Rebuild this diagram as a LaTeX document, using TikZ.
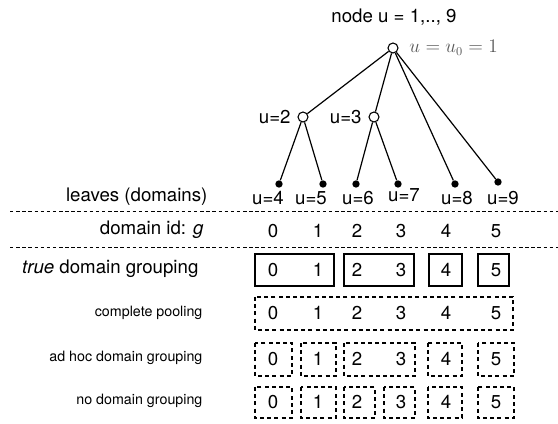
\documentclass[tikz,border=0pt]{standalone}
\usepackage{fontspec}
\setmainfont{TeX Gyre Heros}
\usetikzlibrary{positioning}

\tikzset{
  opennode/.style={circle,draw,fill=white,line width=0.8pt,inner sep=0pt,minimum size=7.5pt},
  leafnode/.style={circle,fill=black,inner sep=0pt,minimum size=5.5pt},
  biglbl/.style={font=\fontsize{14}{16}\selectfont,inner sep=1pt},
  smalllbl/.style={font=\fontsize{10.7}{12}\selectfont,inner sep=1pt,anchor=east},
  edge/.style={line width=0.9pt},
  sepline/.style={line width=0.6pt,dash pattern=on 2.6pt off 2pt},
  truebox/.style={line width=1.4pt},
  poolbox/.style={line width=1.5pt,dash pattern=on 3pt off 2.4pt},
}

\begin{document}
\begin{tikzpicture}[x=0.75pt,y=-0.75pt]
\useasboundingbox (0,0) rectangle (558,424);

% tree
\node[biglbl] (title) at (394,17) {node u = 1,.., 9};
\node[opennode] (u1) at (393,48) {};
\node[font=\fontsize{13.5}{15}\selectfont,text=black!65,right=7pt of u1,inner sep=1pt] (u1lbl) {$u=u_0=1$};
\node[opennode] (u2) at (303,117) {};
\node[opennode] (u3) at (374,117) {};
\node[biglbl,left=4pt of u2] (u2lbl) {u=2};
\node[biglbl,left=4pt of u3] (u3lbl) {u=3};

\node[leafnode] (u4) at (279,184) {};
\node[leafnode] (u5) at (323,184) {};
\node[leafnode] (u6) at (356,184) {};
\node[leafnode] (u7) at (398,184) {};
\node[leafnode] (u8) at (455,184) {};
\node[leafnode] (u9) at (498,182) {};

\draw[edge] (u1) -- (u2);
\draw[edge] (u1) -- (u3);
\draw[edge] (u1) -- (u8);
\draw[edge] (u1) -- (u9);
\draw[edge] (u2) -- (u4);
\draw[edge] (u2) -- (u5);
\draw[edge] (u3) -- (u6);
\draw[edge] (u3) -- (u7);

% leaf labels
\foreach \u/\x/\y in {4/268/198,5/311/198,6/358/198,7/404/195,8/457/198,9/503/198}
  \node[biglbl] (l\u) at (\x,\y) {u=\u};

% row labels
\node[biglbl,anchor=east] (leaves) at (209,197) {leaves (domains)};
\node[biglbl,anchor=east] (domid) at (205,230) {domain id: \textit{g}};
\node[biglbl,anchor=east] (truelbl) at (200,269) {\textit{true} domain grouping};
\node[smalllbl] (poollbl) at (204,313) {complete pooling};
\node[smalllbl] (adhoclbl) at (204,358) {ad hoc domain grouping};
\node[smalllbl] (nolbl) at (204,401) {no domain grouping};

\draw[sepline] (10,211) -- (558,211);
\draw[sepline] (10,247) -- (558,247);

% domain ids and groupings
\foreach \g/\x in {0/273,1/318,2/357,3/401,4/446,5/496} {
  \node[biglbl] (id\g) at (\x,231) {\g};
  \node[biglbl] (tr\g) at (\x,270) {\g};
  \node[biglbl] (cp\g) at (\x,313) {\g};
  \node[biglbl] (ah\g) at (\x,359) {\g};
  \node[biglbl] (ng\g) at (\x,402) {\g};
}

% true grouping
\draw[truebox] (255,254) rectangle (334,286);
\draw[truebox] (344,254) rectangle (414,286);
\draw[truebox] (429,254) rectangle (462,286);
\draw[truebox] (478,254) rectangle (509,286);

% complete pooling
\draw[poolbox] (255,297) rectangle (513,330);

% ad hoc grouping
\draw[poolbox] (255,343) rectangle (292,376);
\draw[poolbox] (301,343) rectangle (336,376);
\draw[poolbox] (344,343) rectangle (415,376);
\draw[poolbox] (428,343) rectangle (462,376);
\draw[poolbox] (478,343) rectangle (514,376);

% no grouping
\draw[poolbox] (255,387) rectangle (292,418);
\draw[poolbox] (301,387) rectangle (336,418);
\draw[poolbox] (344,387) rectangle (375,418);
\draw[poolbox] (384,387) rectangle (415,418);
\draw[poolbox] (428,387) rectangle (462,418);
\draw[poolbox] (478,387) rectangle (514,418);
\end{tikzpicture}
\end{document}
